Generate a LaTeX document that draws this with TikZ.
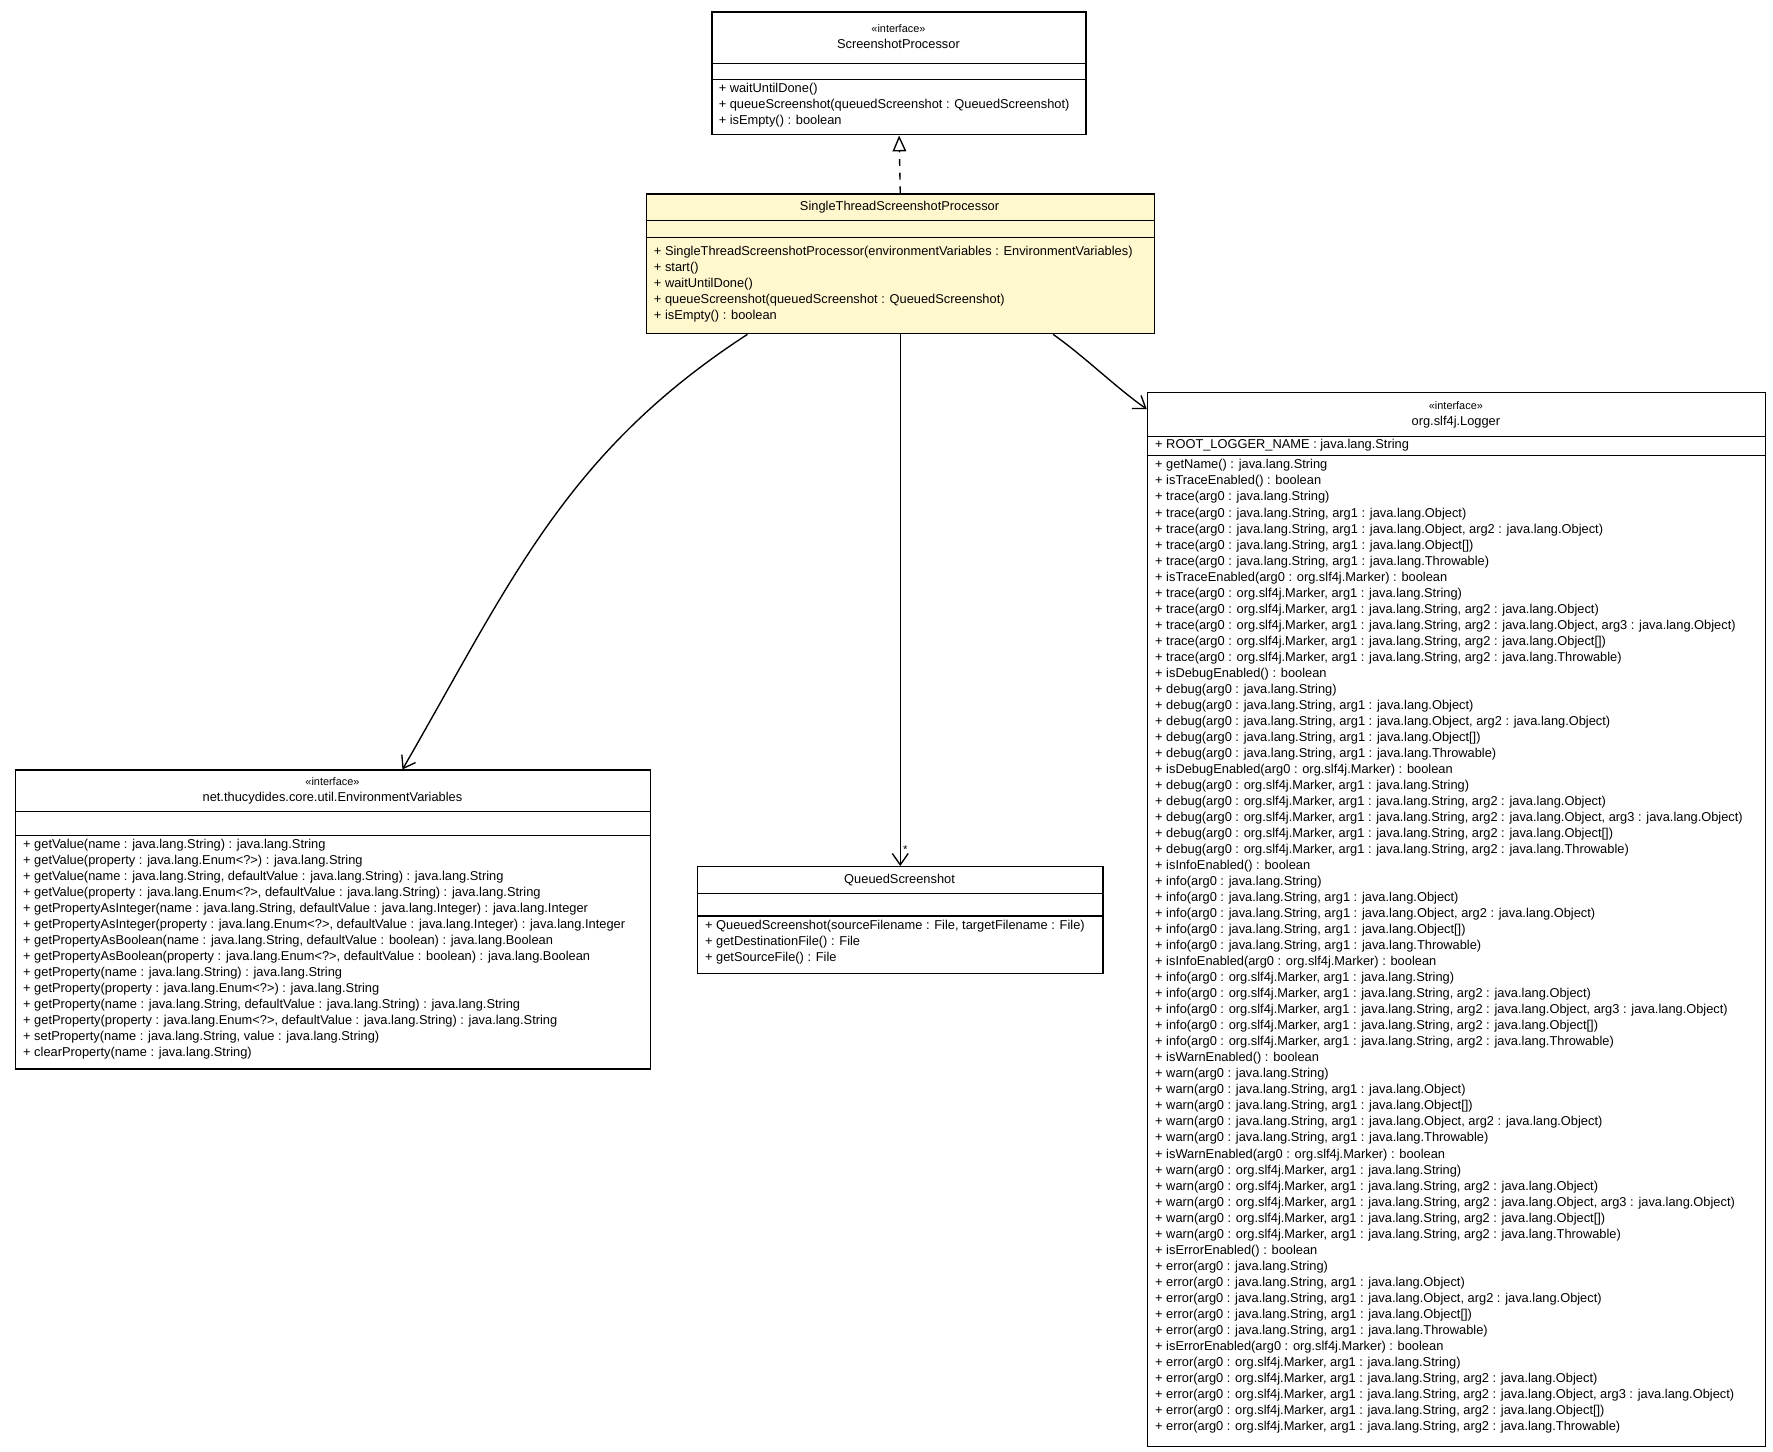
\documentclass[tikz,border=0pt]{standalone}
\usepackage{fontspec}
\setmainfont{Liberation Sans}
\usetikzlibrary{positioning,calc,arrows.meta}
\definecolor{noteyellow}{HTML}{FFF8CF}
\tikzset{
  cls/.style={draw, line width=0.6pt, inner sep=0, anchor=north west},
  txt/.style={inner sep=0, anchor=north west, align=left, font=\fontsize{5.65}{7.05}\selectfont},
  ttl/.style={inner sep=0, align=center, font=\fontsize{5.65}{7.05}\selectfont},
  dep/.style={line width=0.6pt, -{Straight Barb[length=5pt,width=7pt]}},
}
\newcommand\lvl[2]{%
+ is#2Enabled() : boolean\\
+ #1(arg0 : java.lang.String)\\
+ #1(arg0 : java.lang.String, arg1 : java.lang.Object)\\
+ #1(arg0 : java.lang.String, arg1 : java.lang.Object, arg2 : java.lang.Object)\\
+ #1(arg0 : java.lang.String, arg1 : java.lang.Object[])\\
+ #1(arg0 : java.lang.String, arg1 : java.lang.Throwable)\\
+ is#2Enabled(arg0 : org.slf4j.Marker) : boolean\\
+ #1(arg0 : org.slf4j.Marker, arg1 : java.lang.String)\\
+ #1(arg0 : org.slf4j.Marker, arg1 : java.lang.String, arg2 : java.lang.Object)\\
+ #1(arg0 : org.slf4j.Marker, arg1 : java.lang.String, arg2 : java.lang.Object, arg3 : java.lang.Object)\\
+ #1(arg0 : org.slf4j.Marker, arg1 : java.lang.String, arg2 : java.lang.Object[])\\
+ #1(arg0 : org.slf4j.Marker, arg1 : java.lang.String, arg2 : java.lang.Throwable)}
\begin{document}
\begin{tikzpicture}[x=0.5pt,y=-0.5pt]
\useasboundingbox (0,0) rectangle (1560,1277);
% boxes
\node[cls, minimum width=164.5pt, minimum height=54pt] (sp) at (626,10) {};
\node[cls, fill=noteyellow, minimum width=223.5pt, minimum height=61.5pt] (stsp) at (568,170) {};
\node[cls, minimum width=272pt, minimum height=463.5pt] (lg) at (1009,345) {};
\node[cls, minimum width=279.5pt, minimum height=131.5pt] (env) at (13,677) {};
\node[cls, minimum width=178.5pt, minimum height=47pt] (qs) at (613,762) {};
% compartments
\draw[line width=0.6pt] (626,56) -- (955,56) (626,70) -- (955,70);
\draw[line width=0.6pt] (568,194) -- (1015,194) (568,209) -- (1015,209);
\draw[line width=0.6pt] (1009,384) -- (1553,384) (1009,401) -- (1553,401);
\draw[line width=0.6pt] (13,714) -- (572,714) (13,735) -- (572,735);
\draw[line width=0.6pt] (613,786) -- (970,786) (613,806) -- (970,806);
% titles
\node[ttl] (spt) at (790.5,32) {{\fontsize{4.8}{6.5}\selectfont «interface»}\\ScreenshotProcessor};
\node[ttl] (stspt) at (791.5,182) {SingleThreadScreenshotProcessor};
\node[ttl] (lgt) at (1281,365) {{\fontsize{4.8}{6.5}\selectfont «interface»}\\org.slf4j.Logger};
\node[ttl] (envt) at (292.5,696) {{\fontsize{4.8}{6.5}\selectfont «interface»}\\net.thucydides.core.util.EnvironmentVariables};
\node[ttl] (qst) at (791.5,774) {QueuedScreenshot};
% members
\node[txt] (spm) at (632,73) {+ waitUntilDone()\\
+ queueScreenshot(queuedScreenshot : QueuedScreenshot)\\
+ isEmpty() : boolean};
\node[txt] (stspm) at (575,216) {+ SingleThreadScreenshotProcessor(environmentVariables : EnvironmentVariables)\\
+ start()\\
+ waitUntilDone()\\
+ queueScreenshot(queuedScreenshot : QueuedScreenshot)\\
+ isEmpty() : boolean};
\node[txt] (lga) at (1016,386) {+ ROOT\_LOGGER\_NAME : java.lang.String};
\node[txt] (lgm) at (1016,404) {+ getName() : java.lang.String\\
\lvl{trace}{Trace}\\
\lvl{debug}{Debug}\\
\lvl{info}{Info}\\
+ isWarnEnabled() : boolean\\
+ warn(arg0 : java.lang.String)\\
+ warn(arg0 : java.lang.String, arg1 : java.lang.Object)\\
+ warn(arg0 : java.lang.String, arg1 : java.lang.Object[])\\
+ warn(arg0 : java.lang.String, arg1 : java.lang.Object, arg2 : java.lang.Object)\\
+ warn(arg0 : java.lang.String, arg1 : java.lang.Throwable)\\
+ isWarnEnabled(arg0 : org.slf4j.Marker) : boolean\\
+ warn(arg0 : org.slf4j.Marker, arg1 : java.lang.String)\\
+ warn(arg0 : org.slf4j.Marker, arg1 : java.lang.String, arg2 : java.lang.Object)\\
+ warn(arg0 : org.slf4j.Marker, arg1 : java.lang.String, arg2 : java.lang.Object, arg3 : java.lang.Object)\\
+ warn(arg0 : org.slf4j.Marker, arg1 : java.lang.String, arg2 : java.lang.Object[])\\
+ warn(arg0 : org.slf4j.Marker, arg1 : java.lang.String, arg2 : java.lang.Throwable)\\
\lvl{error}{Error}};
\node[txt] (envm) at (20,738) {+ getValue(name : java.lang.String) : java.lang.String\\
+ getValue(property : java.lang.Enum<?>) : java.lang.String\\
+ getValue(name : java.lang.String, defaultValue : java.lang.String) : java.lang.String\\
+ getValue(property : java.lang.Enum<?>, defaultValue : java.lang.String) : java.lang.String\\
+ getPropertyAsInteger(name : java.lang.String, defaultValue : java.lang.Integer) : java.lang.Integer\\
+ getPropertyAsInteger(property : java.lang.Enum<?>, defaultValue : java.lang.Integer) : java.lang.Integer\\
+ getPropertyAsBoolean(name : java.lang.String, defaultValue : boolean) : java.lang.Boolean\\
+ getPropertyAsBoolean(property : java.lang.Enum<?>, defaultValue : boolean) : java.lang.Boolean\\
+ getProperty(name : java.lang.String) : java.lang.String\\
+ getProperty(property : java.lang.Enum<?>) : java.lang.String\\
+ getProperty(name : java.lang.String, defaultValue : java.lang.String) : java.lang.String\\
+ getProperty(property : java.lang.Enum<?>, defaultValue : java.lang.String) : java.lang.String\\
+ setProperty(name : java.lang.String, value : java.lang.String)\\
+ clearProperty(name : java.lang.String)};
\node[txt] (qsm) at (620,809) {+ QueuedScreenshot(sourceFilename : File, targetFilename : File)\\
+ getDestinationFile() : File\\
+ getSourceFile() : File};
% connectors
\coordinate (envin) at ($(env.north)+(61,0)$);
\coordinate (lgin) at ($(lg.north west)+(0,15)$);
\draw[line width=0.6pt, dashed, -{Triangle[open,length=7pt,width=6pt]}] (stsp.north) -- (sp.south);
\draw[dep] ($(stsp.south west)!0.2!(stsp.south east)$) to[out=-147,in=60] (envin);
\draw[dep] (stsp.south) -- node[pos=0.97, right, inner sep=1pt, font=\fontsize{5}{6}\selectfont] {*} (qs.north);
\draw[dep] ($(stsp.south west)!0.8!(stsp.south east)$) to[out=-35,in=145,looseness=0.8] (lgin);
\end{tikzpicture}
\end{document}
